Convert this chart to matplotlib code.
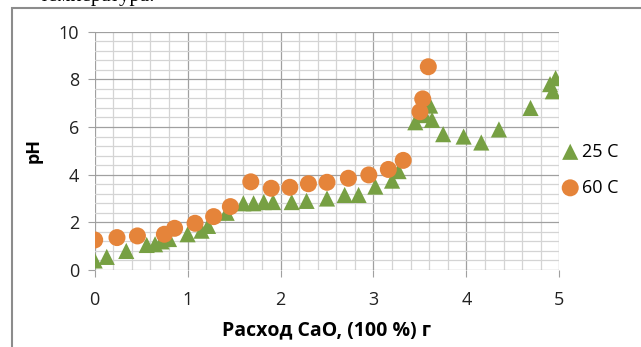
import matplotlib.pyplot as plt
from matplotlib.patches import Rectangle
from matplotlib.ticker import MultipleLocator

# 25 C series
x_25 = [0.0, 0.13, 0.34, 0.56, 0.65, 0.72, 0.8, 1.0, 1.15, 1.22, 1.42, 1.6, 1.71, 1.82,
        1.92, 2.12, 2.28, 2.5, 2.69, 2.84, 3.02, 3.2, 3.27, 3.45, 3.55, 3.61, 3.63, 3.75,
        3.97, 4.16, 4.35, 4.69, 4.9, 4.93, 4.96]
ph_25 = [0.4, 0.55, 0.8, 1.05, 1.08, 1.2, 1.3, 1.5, 1.65, 1.85, 2.4, 2.8, 2.8, 2.85,
         2.85, 2.85, 2.9, 3.0, 3.15, 3.15, 3.5, 3.75, 4.15, 6.2, 6.5, 6.9, 6.3, 5.7,
         5.6, 5.35, 5.9, 6.8, 7.8, 7.5, 8.05]

# 60 C series
x_60 = [0.0, 0.24, 0.46, 0.75, 0.86, 1.08, 1.28, 1.46, 1.68, 1.9, 2.1, 2.3, 2.5, 2.73,
        2.95, 3.16, 3.32, 3.5, 3.53, 3.59]
ph_60 = [1.26, 1.36, 1.43, 1.5, 1.75, 1.96, 2.24, 2.66, 3.7, 3.43, 3.47, 3.62, 3.68, 3.85,
         3.99, 4.22, 4.6, 6.64, 7.18, 8.53]

labels = ["25 C", "60 C"]

plt.rcParams['font.family'] = ['Open Sans', 'DejaVu Sans']

fig = plt.figure(figsize=(6.41, 3.47), dpi=100)
ax = fig.add_axes([0.1477, 0.2219, 0.7249, 0.6867])

ax.scatter(x_25, ph_25, marker='^', s=135, color='#77A043', edgecolors='none',
           label=labels[0], zorder=3)
ax.scatter(x_60, ph_60, marker='o', s=150, color='#E5843A', edgecolors='none',
           label=labels[1], zorder=4)

ax.set_xlim(0, 5)
ax.set_ylim(0, 10)
ax.xaxis.set_major_locator(MultipleLocator(1))
ax.xaxis.set_minor_locator(MultipleLocator(0.2))
ax.yaxis.set_major_locator(MultipleLocator(2))
ax.yaxis.set_minor_locator(MultipleLocator(0.4))
ax.grid(True, which='major', color='#a0a0a0', linewidth=0.9, zorder=1)
ax.grid(True, which='minor', color='#d4d4d4', linewidth=0.9, zorder=0)
ax.set_axisbelow(True)
for s in ax.spines.values():
    s.set_visible(False)
ax.tick_params(which='major', length=5, color='#a0a0a0', labelsize=13,
               labelcolor='#222222', pad=6)
ax.tick_params(which='minor', length=0)
ax.tick_params(axis='x', pad=10)

ax.set_xlabel("Расход CaO, (100 %) г", fontsize=14, fontweight='bold', labelpad=8)
ax.set_ylabel("pH", fontsize=13, fontweight='bold', labelpad=12)

ax.legend(loc='upper left', bbox_to_anchor=(1.004, 0.535), frameon=False, fontsize=13,
          handletextpad=0.17, labelspacing=1.0, borderaxespad=0, borderpad=0,
          handlelength=1.0)

# chart frame (cut off at right and bottom)
fig.patches.append(Rectangle((12 / 641, -0.1), 1.2, 1 - 8 / 347 + 0.1,
                             transform=fig.transFigure, fill=False,
                             edgecolor='#8c8c8c', linewidth=1.5))

# cut off line of the surrounding text
fig.text(40 / 641, 1 - 1.5 / 347, "температура.", fontsize=15,
         family='Liberation Serif', va='baseline', ha='left')

fig.savefig("out.png", dpi=100)
